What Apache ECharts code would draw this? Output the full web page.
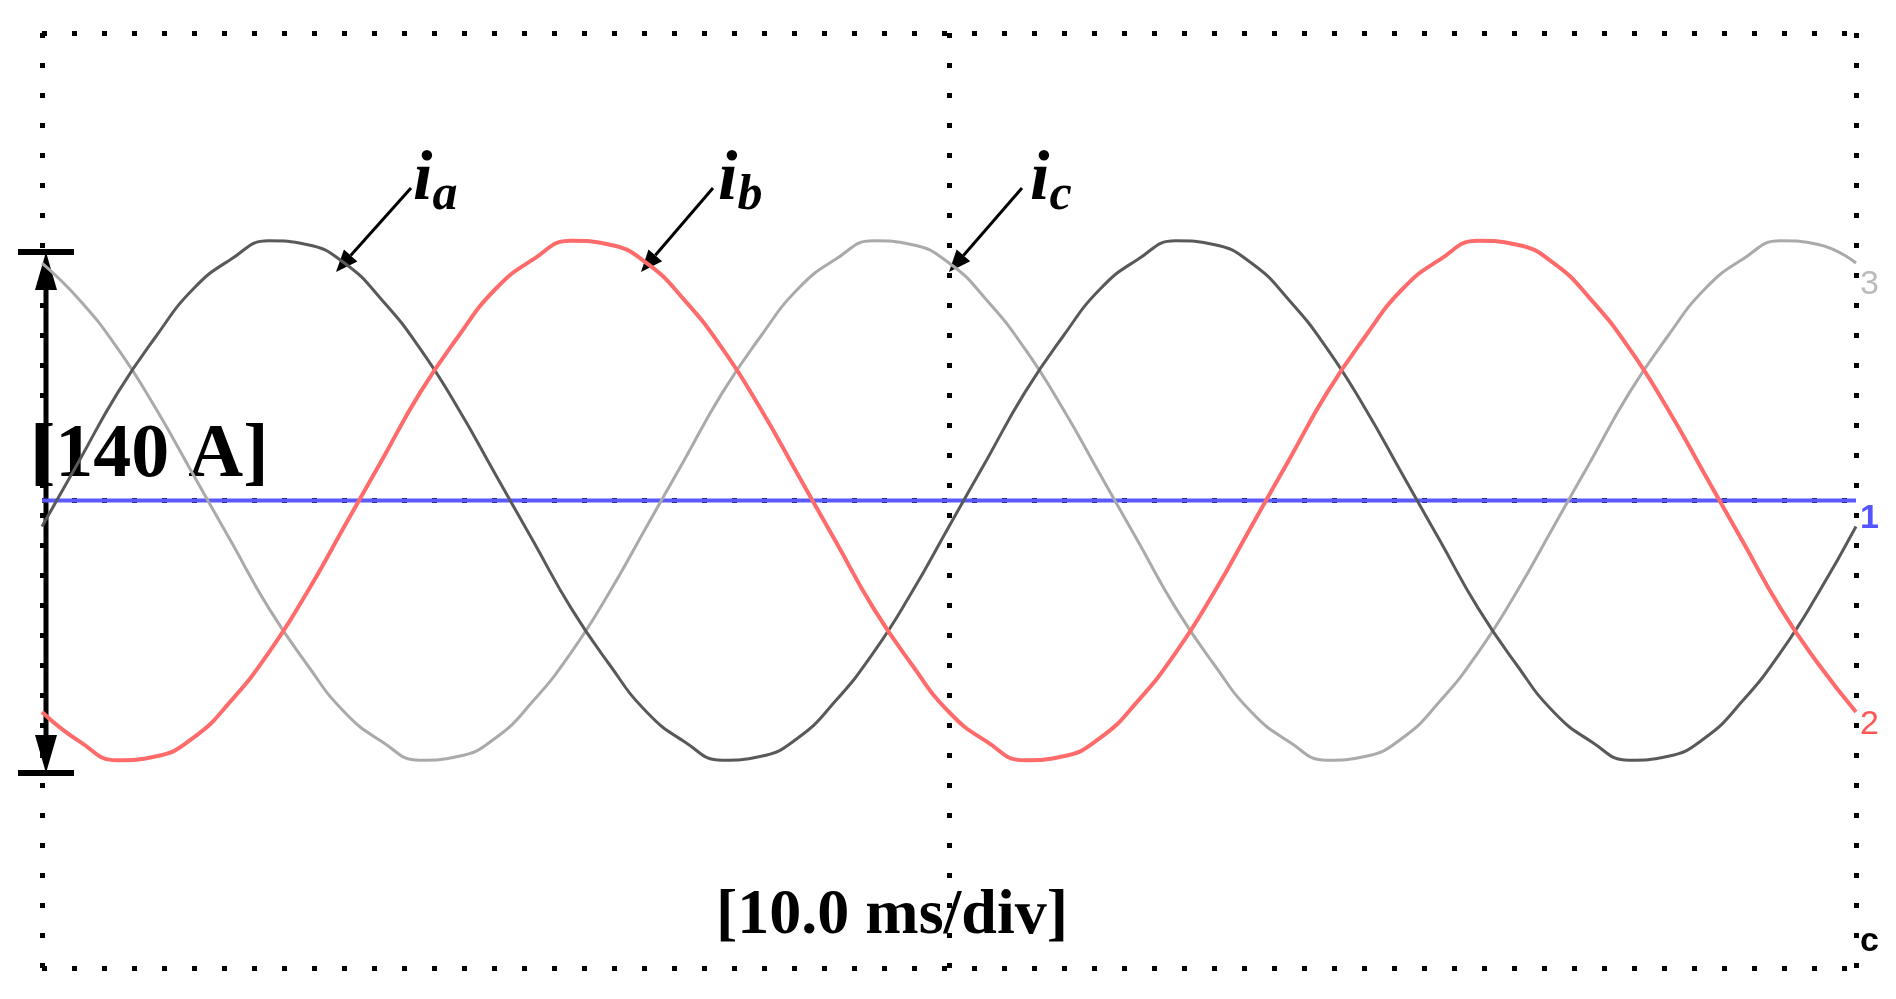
<!DOCTYPE html>
<html><head><meta charset="utf-8">
<script src="https://cdn.jsdelivr.net/npm/echarts@6/dist/echarts.min.js"></script>
<style>html,body{margin:0;padding:0;background:#fff}#c{width:1896px;height:999px}</style>
</head><body><div id="c"></div>
<script>
const ia24 = [-7,11,29,44,57,65,70,69,64,54,41,25,7,-11,-29,-44,-57,-65,-70,-69,-64,-54,-41,-25];
const ib24 = [-57,-65,-70,-69,-64,-54,-41,-25,-7,11,29,44,57,65,70,69,64,54,41,25,7,-11,-29,-44];
const ic24 = [64,54,41,25,7,-11,-29,-44,-57,-65,-70,-69,-64,-54,-41,-25,-7,11,29,44,57,65,70,69];
const sampleStepMs = 50/24;
function build(arr){const out=[];for(let i=0;i<=48;i++){out.push([+(i*sampleStepMs).toFixed(3), arr[i%24]]);}return out;}
const chart = echarts.init(document.getElementById('c'));
function arrow(x1,y1,x2,y2,w,h){
  const dx=x2-x1, dy=y2-y1, L=Math.hypot(dx,dy), ux=dx/L, uy=dy/L, px=-uy, py=ux;
  const bx=x2-ux*h, by=y2-uy*h;
  return [
    {type:'line',shape:{x1:x1,y1:y1,x2:bx,y2:by},style:{stroke:'#000',lineWidth:3}},
    {type:'polygon',shape:{points:[[x2,y2],[bx+px*w,by+py*w],[bx-px*w,by-py*w]]},style:{fill:'#000'}}
  ];
}
const lbl = (x,s)=>({type:'text',left:x,top:146,style:{text:'{i|i}{s|'+s+'}',rich:{i:{fontFamily:'Liberation Serif',fontStyle:'italic',fontWeight:'bold',fontSize:70,fill:'#000'},s:{fontFamily:'Liberation Serif',fontStyle:'italic',fontWeight:'bold',fontSize:50,fill:'#000',padding:[30,0,0,0]}}}});
const graphics = [
  ...arrow(411,188,336,272,9,22), ...arrow(713,188,641,272,9,22), ...arrow(1022,188,949,272,9,22),
  lbl(413,'a'), lbl(718,'b'), lbl(1030,'c'),
  {type:'line',shape:{x1:46,y1:275,x2:46,y2:750},style:{stroke:'#000',lineWidth:5}},
  {type:'polygon',shape:{points:[[46,252],[35,290],[57,290]]},style:{fill:'#000'}},
  {type:'polygon',shape:{points:[[46,773],[35,735],[57,735]]},style:{fill:'#000'}},
  {type:'line',shape:{x1:18,y1:252,x2:74,y2:252},style:{stroke:'#000',lineWidth:6}},
  {type:'line',shape:{x1:18,y1:773,x2:74,y2:773},style:{stroke:'#000',lineWidth:6}},
  {type:'text',left:30,top:418,style:{text:'[140 A]',fontFamily:'Liberation Serif',fontWeight:'bold',fontSize:76,fill:'#000'}},
  {type:'text',left:716,top:884,style:{text:'[10.0 ms/div]',fontFamily:'Liberation Serif',fontWeight:'bold',fontSize:64,fill:'#000'}},
  {type:'text',left:1860,top:268,style:{text:'3',fontFamily:'Liberation Sans',fontSize:34,fill:'#bbb'}},
  {type:'text',left:1860,top:502,style:{text:'1',fontFamily:'Liberation Sans',fontWeight:'bold',fontSize:34,fill:'#5555ff'}},
  {type:'text',left:1860,top:708,style:{text:'2',fontFamily:'Liberation Sans',fontSize:34,fill:'#ff5555'}},
  {type:'text',left:1860,top:925,style:{text:'c',fontFamily:'Liberation Sans',fontWeight:'bold',fontSize:34,fill:'#000'}}
];
chart.setOption({
  animation:false,
  grid:{left:42,right:40,top:33,bottom:31},
  xAxis:{type:'value',min:0,max:100,interval:50,axisLine:{show:false},axisTick:{show:false},axisLabel:{show:false},
    splitLine:{show:true,lineStyle:{color:'#000',width:5,type:[5,25]}}},
  yAxis:{type:'value',min:-126,max:126,interval:126,axisLine:{show:false},axisTick:{show:false},axisLabel:{show:false},
    splitLine:{show:true,lineStyle:{color:'#000',width:5,type:[5,25]}}},
  series:[
    {type:'line',data:[[0,0],[100,0]],symbol:'none',lineStyle:{color:'#5a5aff',width:4},z:1},
    {type:'line',data:build(ic24),symbol:'none',smooth:true,lineStyle:{color:'#aaaaaa',width:3}},
    {type:'line',data:build(ia24),symbol:'none',smooth:true,lineStyle:{color:'#595959',width:3}},
    {type:'line',data:build(ib24),symbol:'none',smooth:true,lineStyle:{color:'#ff6b6b',width:4}}
  ],
  graphic:graphics
});
</script></body></html>
